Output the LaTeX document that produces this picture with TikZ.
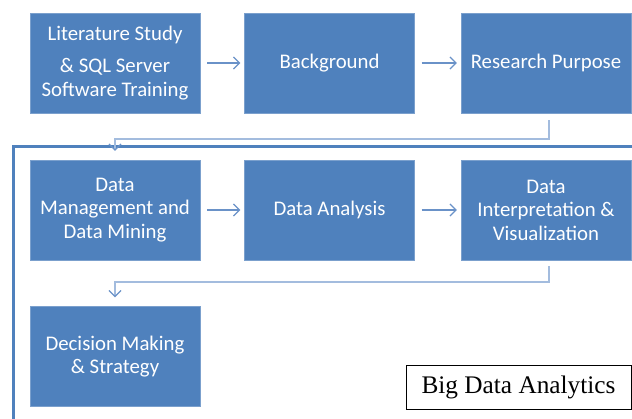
\documentclass[tikz,border=0pt]{standalone}
\usepackage{fontspec}
\setmainfont{Liberation Serif}
\newfontfamily\boxfont{Carlito}
\usetikzlibrary{arrows.meta}

\definecolor{boxblue}{HTML}{4F81BD}
\definecolor{linkblue}{HTML}{6A92C8}
\definecolor{elbowblue}{HTML}{A3BCDE}

\begin{document}
\begin{tikzpicture}[x=1pt,y=1pt]
\tikzset{stage/.style = {shape=rectangle,fill=boxblue,draw=boxblue!75!white,minimum width=170pt,minimum height=100pt,inner sep=0pt,text=white,align=center,font=\boxfont\fontsize{20.8}{23.5}\selectfont}}
\tikzset{link/.style = {draw=linkblue,line width=1.2pt,-{Straight Barb[length=6pt,width=12pt]}}}
\tikzset{elbow/.style = {draw=elbowblue,line width=2pt,-{Straight Barb[length=6pt,width=12pt,line width=1.2pt,color=linkblue]}}}

\useasboundingbox (0,0) rectangle (632,-419);
\clip (0,0) rectangle (632,-419);

% outer frame of the analytics part
\draw[boxblue,line width=3pt] (13,-450) -- (13,-147) -- (660,-147);

\foreach \pos/\name/\txt in {{(115,-63)/lit/{Literature Study\\[8.5pt]\& SQL Server\\Software Training}},
  {(329.5,-63)/bg/{Background}}, {(546,-63)/rp/{Research Purpose}},
  {(115,-210)/dm/{Data\\Management and\\Data Mining}}, {(329.5,-210)/da/{Data Analysis}},
  {(546,-210)/dv/{Data\\Interpretation \&\\Visualization}}, {(115,-356.5)/dec/{Decision Making\\\& Strategy}}}
\node[stage] (\name) at \pos {\txt};

\foreach \from/\to in {lit/bg, bg/rp, dm/da, da/dv}
\draw[link,shorten <=7pt,shorten >=4pt] (\from) to (\to);

\draw[elbow] ([xshift=3pt,yshift=-7pt]rp.south) -- ++(0,-19) -| ([yshift=9pt]dm.north);
\draw[elbow] ([xshift=3pt,yshift=-6pt]dv.south) -- ++(0,-16) -| ([yshift=9pt]dec.north);

\node[draw=black,line width=0.8pt,minimum width=225pt,minimum height=44pt,inner sep=0pt,font=\fontsize{25.3}{28}\selectfont] (bda) at (518.5,-387) {Big Data Analytics};
\end{tikzpicture}
\end{document}
